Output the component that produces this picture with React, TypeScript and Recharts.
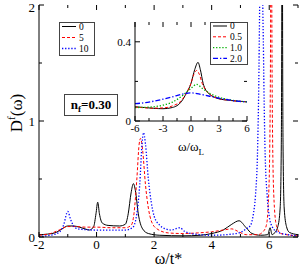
import { LineChart, Line, XAxis, YAxis } from "recharts";

// main panel: D^f(w) vs w/t*, three values of the parameter
const mainX = [-2, -1, 0, 1, 2, 3, 4, 5, 6, 7];
const mainY = [0, 0.5, 1, 1.5, 2];

const main0 = [
  [-2, 0.02], [-1.7, 0.025], [-1.4, 0.04], [-1.2, 0.07], [-1.0, 0.095], [-0.8, 0.095],
  [-0.6, 0.085], [-0.4, 0.07], [-0.25, 0.06], [-0.1, 0.09], [-0.02, 0.2], [0.04, 0.3],
  [0.1, 0.2], [0.2, 0.12], [0.4, 0.1], [0.8, 0.095], [1.0, 0.11], [1.1, 0.2], [1.2, 0.38],
  [1.28, 0.46], [1.35, 0.4], [1.45, 0.2], [1.6, 0.07], [1.8, 0.03], [2.2, 0.015], [3, 0.01],
  [3.6, 0.015], [4.0, 0.03], [4.4, 0.06], [4.7, 0.11], [4.95, 0.14], [5.2, 0.08], [5.4, 0.03],
  [5.7, 0.015], [5.95, 0.02], [6.03, 0.08], [6.1, 0.02], [6.2, 0.04], [6.3, 0.09], [6.38, 0.25],
  [6.42, 0.8], [6.44, 2.5], [6.45, 6], [6.46, 2.5], [6.48, 0.8], [6.52, 0.25], [6.6, 0.09],
  [6.7, 0.04], [7, 0.02],
];
const main5 = [
  [-2, 0.015], [-1.6, 0.03], [-1.3, 0.06], [-1.0, 0.09], [-0.7, 0.09], [-0.4, 0.085], [0, 0.085],
  [0.5, 0.08], [1.0, 0.08], [1.2, 0.1], [1.3, 0.2], [1.4, 0.5], [1.48, 0.8], [1.53, 0.85],
  [1.6, 0.75], [1.7, 0.45], [1.8, 0.25], [1.9, 0.14], [2.1, 0.07], [2.5, 0.035], [3, 0.03],
  [3.5, 0.035], [4.0, 0.045], [4.4, 0.06], [4.7, 0.07], [4.9, 0.05], [5.2, 0.02], [5.6, 0.02],
  [5.8, 0.05], [5.9, 0.1], [5.97, 0.3], [6.02, 0.8], [6.05, 2], [6.07, 6], [6.09, 2], [6.12, 0.8],
  [6.17, 0.3], [6.25, 0.1], [6.4, 0.03], [7, 0.01],
];
const main10 = [
  [-2, 0.005], [-1.6, 0.015], [-1.3, 0.04], [-1.15, 0.1], [-1.0, 0.22], [-0.9, 0.15],
  [-0.75, 0.08], [-0.5, 0.065], [0, 0.06], [0.5, 0.06], [1.0, 0.06], [1.25, 0.08], [1.4, 0.2],
  [1.5, 0.45], [1.58, 0.8], [1.63, 0.9], [1.7, 0.8], [1.8, 0.5], [1.9, 0.3], [2.0, 0.18],
  [2.2, 0.1], [2.4, 0.07], [2.6, 0.06], [2.8, 0.075], [2.9, 0.08], [3.05, 0.05], [3.4, 0.025],
  [4, 0.015], [4.5, 0.02], [5.0, 0.04], [5.2, 0.07], [5.35, 0.1], [5.45, 0.2], [5.52, 0.35],
  [5.6, 0.8], [5.65, 1.6], [5.68, 2.5], [5.72, 6], [5.76, 2.5], [5.8, 1.6], [5.85, 0.8],
  [5.93, 0.35], [6.0, 0.18], [6.1, 0.09], [6.3, 0.04], [7, 0.01],
];

// inset: w/w_L, four values
const insetX = [-6, -4.5, -3, -1.5, 0, 1.5, 3, 4.5, 6];
const insetY = [0, 0.2, 0.4];

const inset0 = [
  [-6, 0.072], [-5, 0.068], [-4, 0.064], [-3, 0.062], [-2, 0.068], [-1, 0.1], [-0.5, 0.14],
  [0, 0.19], [0.4, 0.26], [0.75, 0.296], [1.0, 0.26], [1.3, 0.19], [1.6, 0.155], [2, 0.135],
  [3, 0.112], [4, 0.105], [5, 0.1], [6, 0.097],
];
const inset05 = [
  [-6, 0.07], [-5, 0.067], [-4, 0.065], [-3, 0.066], [-2, 0.076], [-1, 0.105], [-0.5, 0.14],
  [0, 0.19], [0.3, 0.235], [0.6, 0.255], [0.9, 0.235], [1.2, 0.19], [1.6, 0.155], [2, 0.135],
  [3, 0.113], [4, 0.105], [5, 0.1], [6, 0.097],
];
const inset10 = [
  [-6, 0.068], [-4.5, 0.07], [-3, 0.08], [-2, 0.095], [-1, 0.125], [0, 0.165], [0.6, 0.185],
  [1.2, 0.165], [2, 0.14], [3, 0.12], [4, 0.108], [5, 0.101], [6, 0.097],
];
const inset20 = [
  [-6, 0.088], [-5, 0.092], [-4, 0.1], [-3, 0.11], [-2, 0.122], [-1, 0.135], [0, 0.142],
  [0.5, 0.14], [1, 0.135], [2, 0.125], [3, 0.115], [4, 0.107], [5, 0.1], [6, 0.097],
];

const pts = (a: number[][]) => a.map(([x, y]) => ({ x, y }));

const mainSeries = [
  { name: "0", data: main0, stroke: "#000", dash: undefined, w: 1 },
  { name: "5", data: main5, stroke: "#ff0000", dash: "3 2", w: 1 },
  { name: "10", data: main10, stroke: "#0000ff", dash: "1.3 1.8", w: 1.3 },
];
const insetSeries = [
  { name: "0", data: inset0, stroke: "#000", dash: undefined, w: 1 },
  { name: "0.5", data: inset05, stroke: "#ff0000", dash: "3 2", w: 1 },
  { name: "1.0", data: inset10, stroke: "#00b000", dash: "1.3 1.8", w: 1.3 },
  { name: "2.0", data: inset20, stroke: "#0000ff", dash: "5 2 1.3 2", w: 1.3 },
];

const FONT = "'Liberation Serif', 'DejaVu Serif', serif";

// plot boxes (page pixels)
const M = { left: 39, right: 298, top: 5, bottom: 237 };
const I = { left: 135, right: 247, top: 22, bottom: 121 };
const IBOX = { left: 100, top: 12, width: 150, height: 155 };

const xTick = (top: number, bottom: number, major: (v: number) => boolean, fs: number, gap: number) =>
  (props: any) => {
    const { x, payload } = props;
    const v = payload.value;
    const m = major(v);
    const len = m ? 5 : 3;
    return (
      <g>
        <line x1={x} x2={x} y1={bottom} y2={bottom - len} stroke="#000" />
        <line x1={x} x2={x} y1={top} y2={top + len} stroke="#000" />
        {m && (
          <text x={x} y={bottom + gap} textAnchor="middle" fontSize={fs} fill="#000" fontFamily={FONT}>
            {v}
          </text>
        )}
      </g>
    );
  };

const yTick = (left: number, right: number, major: (v: number) => boolean, fs: number) =>
  (props: any) => {
    const { y, payload } = props;
    const v = payload.value;
    const m = major(v);
    const len = m ? 5 : 3;
    // keep the top label inside the page
    const ly = Math.max(y, fs * 0.55);
    return (
      <g>
        <line x1={left} x2={left + len} y1={y} y2={y} stroke="#000" />
        <line x1={right} x2={right - len} y1={y} y2={y} stroke="#000" />
        {m && (
          <text x={left - 4} y={ly} dy="0.35em" textAnchor="end" fontSize={fs} fill="#000" fontFamily={FONT}>
            {v}
          </text>
        )}
      </g>
    );
  };

function Legend({ x, y, w, h, rows, step, items }: any) {
  return (
    <g>
      <rect x={x + 0.5} y={y + 0.5} width={w} height={h} fill="#fff" stroke="#444" />
      {items.map((s: any, i: number) => {
        const ry = y + rows + i * step;
        return (
          <g key={s.name}>
            <line x1={x + 3} x2={x + 17} y1={ry} y2={ry} stroke={s.stroke} strokeWidth={s.w} strokeDasharray={s.dash} />
            <text x={x + 20} y={ry} dy="0.35em" fontSize={9.5} fontFamily={FONT} fill="#000">
              {s.name}
            </text>
          </g>
        );
      })}
    </g>
  );
}

export default function App() {
  return (
    <div style={{ position: "relative", width: 300, height: 268, background: "#fff", fontFamily: FONT }}>
      <style>{`body{margin:0}`}</style>
      <div style={{ position: "absolute", left: 0, top: 0 }}>
        <LineChart width={300} height={268} margin={{ top: M.top, right: 300 - M.right, left: 0, bottom: 0 }}>
          <XAxis
            dataKey="x"
            type="number"
            domain={[-2, 7]}
            ticks={mainX}
            interval={0}
            height={268 - M.bottom}
            axisLine={{ stroke: "#000" }}
            tickLine={false}
            tick={xTick(M.top, M.bottom, (v) => v % 2 === 0, 13, 12)}
            allowDataOverflow
          />
          <XAxis xAxisId="t" orientation="top" type="number" domain={[0, 1]} height={0} tick={false} tickLine={false} axisLine={{ stroke: "#000" }} />
          <YAxis
            type="number"
            domain={[0, 2]}
            ticks={mainY}
            interval={0}
            width={M.left}
            axisLine={{ stroke: "#000" }}
            tickLine={false}
            tick={yTick(M.left, M.right, (v) => Number.isInteger(v), 13)}
            allowDataOverflow
          />
          <YAxis yAxisId="r" orientation="right" type="number" domain={[0, 1]} width={0} tick={false} tickLine={false} axisLine={{ stroke: "#000" }} />
          {mainSeries.map((s) => (
            <Line
              key={s.name}
              data={pts(s.data)}
              dataKey="y"
              type="monotone"
              stroke={s.stroke}
              strokeWidth={s.w}
              strokeDasharray={s.dash}
              dot={false}
              isAnimationActive={false}
            />
          ))}
        </LineChart>
      </div>

      <div style={{ position: "absolute", left: IBOX.left, top: IBOX.top }}>
        <LineChart
          width={IBOX.width}
          height={IBOX.height}
          margin={{ top: I.top - IBOX.top, right: IBOX.left + IBOX.width - I.right, left: 0, bottom: 0 }}
        >
          <XAxis
            dataKey="x"
            type="number"
            domain={[-6, 6]}
            ticks={insetX}
            interval={0}
            height={IBOX.top + IBOX.height - I.bottom}
            axisLine={{ stroke: "#000" }}
            tickLine={false}
            tick={xTick(I.top - IBOX.top, I.bottom - IBOX.top, (v) => v % 3 === 0, 11, 11)}
          />
          <XAxis xAxisId="t" orientation="top" type="number" domain={[0, 1]} height={0} tick={false} tickLine={false} axisLine={{ stroke: "#000" }} />
          <YAxis
            type="number"
            domain={[0, 0.5]}
            ticks={insetY}
            interval={0}
            width={I.left - IBOX.left}
            axisLine={{ stroke: "#000" }}
            tickLine={false}
            tick={yTick(I.left - IBOX.left, I.right - IBOX.left, (v) => v === 0 || v === 0.4, 11)}
          />
          <YAxis yAxisId="r" orientation="right" type="number" domain={[0, 1]} width={0} tick={false} tickLine={false} axisLine={{ stroke: "#000" }} />
          {insetSeries.map((s) => (
            <Line
              key={s.name}
              data={pts(s.data)}
              dataKey="y"
              type="monotone"
              stroke={s.stroke}
              strokeWidth={s.w}
              strokeDasharray={s.dash}
              dot={false}
              isAnimationActive={false}
            />
          ))}
        </LineChart>
      </div>

      <svg width={300} height={268} style={{ position: "absolute", left: 0, top: 0, pointerEvents: "none" }}>
        {/* axis titles */}
        <text x={(M.left + M.right) / 2} y={264} textAnchor="middle" fontSize={16} fontFamily={FONT}>
          ω/t*
        </text>
        <text transform="rotate(-90 16 113)" x={16} y={113} dy="0.35em" textAnchor="middle" fontSize={17} fontFamily={FONT}>
          <tspan>D</tspan>
          <tspan dy={-7} fontSize={11}>f</tspan>
          <tspan dy={7}>(ω)</tspan>
        </text>
        <text x={(I.left + I.right) / 2} y={151} textAnchor="middle" fontSize={13} fontFamily={FONT}>
          <tspan>ω/ω</tspan>
          <tspan dy={4} fontSize={9}>L</tspan>
        </text>

        <Legend x={59} y={22} w={35} h={33} rows={4.5} step={11} items={mainSeries} />
        <Legend x={210} y={22} w={37} h={42} rows={4} step={10.8} items={insetSeries} />

        <rect x={64.5} y={94.5} width={53} height={21} fill="#fff" stroke="#444" />
        <text x={91} y={109} textAnchor="middle" fontSize={13} fontWeight="bold" fontFamily={FONT}>
          <tspan>n</tspan>
          <tspan dy={3} fontSize={9}>f</tspan>
          <tspan dy={-3}>=0.30</tspan>
        </text>
      </svg>
    </div>
  );
}
